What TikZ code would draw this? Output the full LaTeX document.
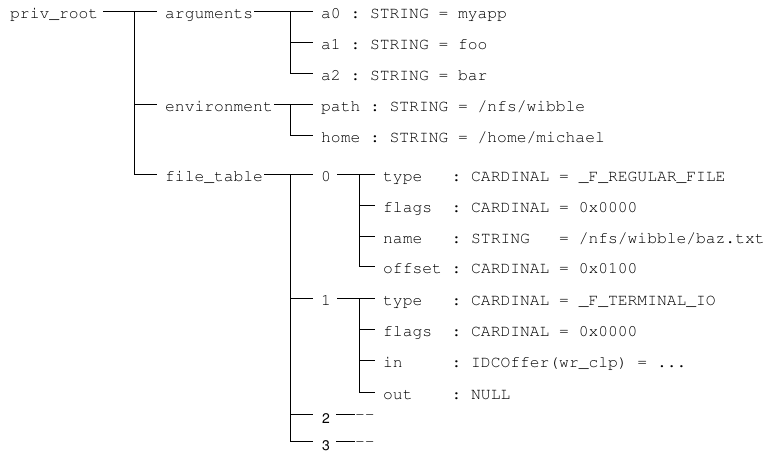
\documentclass[tikz,border=0pt]{standalone}
\usepackage[T1]{fontenc}
\usepackage{courier}
\usepackage{helvet}
\begin{document}
\begin{tikzpicture}[x=1pt,y=-1pt,
  lbl/.style={font=\ttfamily\fontsize{16.3}{19}\selectfont\frenchspacing,
              inner sep=0pt, anchor=base west},
  num/.style={font=\sffamily\fontsize{14}{17}\selectfont,
              inner sep=0pt, anchor=base west, text depth=0pt},
  conn/.style={line width=0.9pt, black}]
\useasboundingbox (0,0) rectangle (767,453);

% trunk columns
\coordinate (t1) at (134,0);
\coordinate (t2) at (290,0);
\coordinate (t3) at (359,0);

% root and first level
\node[lbl] (root) at (10,18) {priv\_root};
\node[lbl] (args) at (165,18) {arguments};
\node[lbl] (env)  at (165,111) {environment};
\node[lbl] (ft)   at (165,181) {file\_table};

% arguments
\node[lbl] (a0) at (321,18) {a0 : STRING = myapp};
\node[lbl] (a1) at (321,49) {a1 : STRING = foo};
\node[lbl] (a2) at (321,80) {a2 : STRING = bar};

% environment
\node[lbl] (path) at (321,111) {path : STRING = /nfs/wibble};
\node[lbl] (home) at (321,142) {home : STRING = /home/michael};

% file table entries
\node[lbl] (i0) at (321,181) {0};
\node[lbl] (i1) at (321,305) {1};
\node[num] (i2) at (322,423) {2};
\node[num] (i3) at (322,450) {3};
\node[lbl] (d2) at (355,419) {-{}-};
\node[lbl] (d3) at (355,446) {-{}-};

% entry 0
\node[lbl] (f0a) at (383,181) {type~~~:~CARDINAL~=~\_F\_REGULAR\_FILE};
\node[lbl] (f0b) at (383,212) {flags~~:~CARDINAL~=~0x0000};
\node[lbl] (f0c) at (383,243) {name~~~:~STRING~~~=~/nfs/wibble/baz.txt};
\node[lbl] (f0d) at (383,273) {offset~:~CARDINAL~=~0x0100};

% entry 1
\node[lbl] (f1a) at (383,305) {type~~~:~CARDINAL~=~\_F\_TERMINAL\_IO};
\node[lbl] (f1b) at (383,336) {flags~~:~CARDINAL~=~0x0000};
\node[lbl] (f1c) at (383,367) {in~~~~~:~IDCOffer(wr\_clp)~=~...};
\node[lbl] (f1d) at (383,399) {out~~~~:~NULL};

% connector end points
\foreach \n in {args,env,ft,a0,a1,a2,path,home,i0,i1,f0a,f0b,f0c,f0d,f1a,f1b,f1c,f1d}
  \coordinate (\n-in) at ([xshift=-8pt,yshift=7pt]\n.base west);
\foreach \n in {i2,i3}
  \coordinate (\n-in) at ([xshift=-9pt,yshift=9pt]\n.base west);
\coordinate (root-out) at ([xshift=5pt,yshift=7pt]root.base east);
\foreach \n in {args,env,ft}
  \coordinate (\n-out) at ([xshift=1pt,yshift=7pt]\n.base east);
\foreach \n in {i0,i1}
  \coordinate (\n-out) at ([xshift=6pt,yshift=7pt]\n.base east);
\foreach \n in {i2,i3}
  \coordinate (\n-out) at ([xshift=6pt,yshift=9pt]\n.base east);

% root level
\draw[conn] (root-out) -- (args-in);
\draw[conn] (t1 |- root-out) |- (ft-in);
\draw[conn] (t1 |- env-in) -- (env-in);

% arguments
\draw[conn] (args-out) -- (a0-in);
\draw[conn] (t2 |- args-out) |- (a2-in);
\draw[conn] (t2 |- a1-in) -- (a1-in);

% environment
\draw[conn] (env-out) -- (path-in);
\draw[conn] (t2 |- env-out) |- (home-in);

% file table
\draw[conn] (ft-out) -- (i0-in);
\draw[conn] (t2 |- ft-out) |- (i3-in);
\draw[conn] (t2 |- i1-in) -- (i1-in);
\draw[conn] (t2 |- i2-in) -- (i2-in);

% entry 0
\draw[conn] (i0-out) -- (f0a-in);
\draw[conn] (t3 |- i0-out) |- (f0d-in);
\draw[conn] (t3 |- f0b-in) -- (f0b-in);
\draw[conn] (t3 |- f0c-in) -- (f0c-in);

% entry 1
\draw[conn] (i1-out) -- (f1a-in);
\draw[conn] (t3 |- i1-out) |- (f1d-in);
\draw[conn] (t3 |- f1b-in) -- (f1b-in);
\draw[conn] (t3 |- f1c-in) -- (f1c-in);

% entries 2 and 3, not expanded
\draw[conn] (i2-out) -- (i2-out -| d2.west);
\draw[conn] (i3-out) -- (i3-out -| d3.west);
\end{tikzpicture}
\end{document}
